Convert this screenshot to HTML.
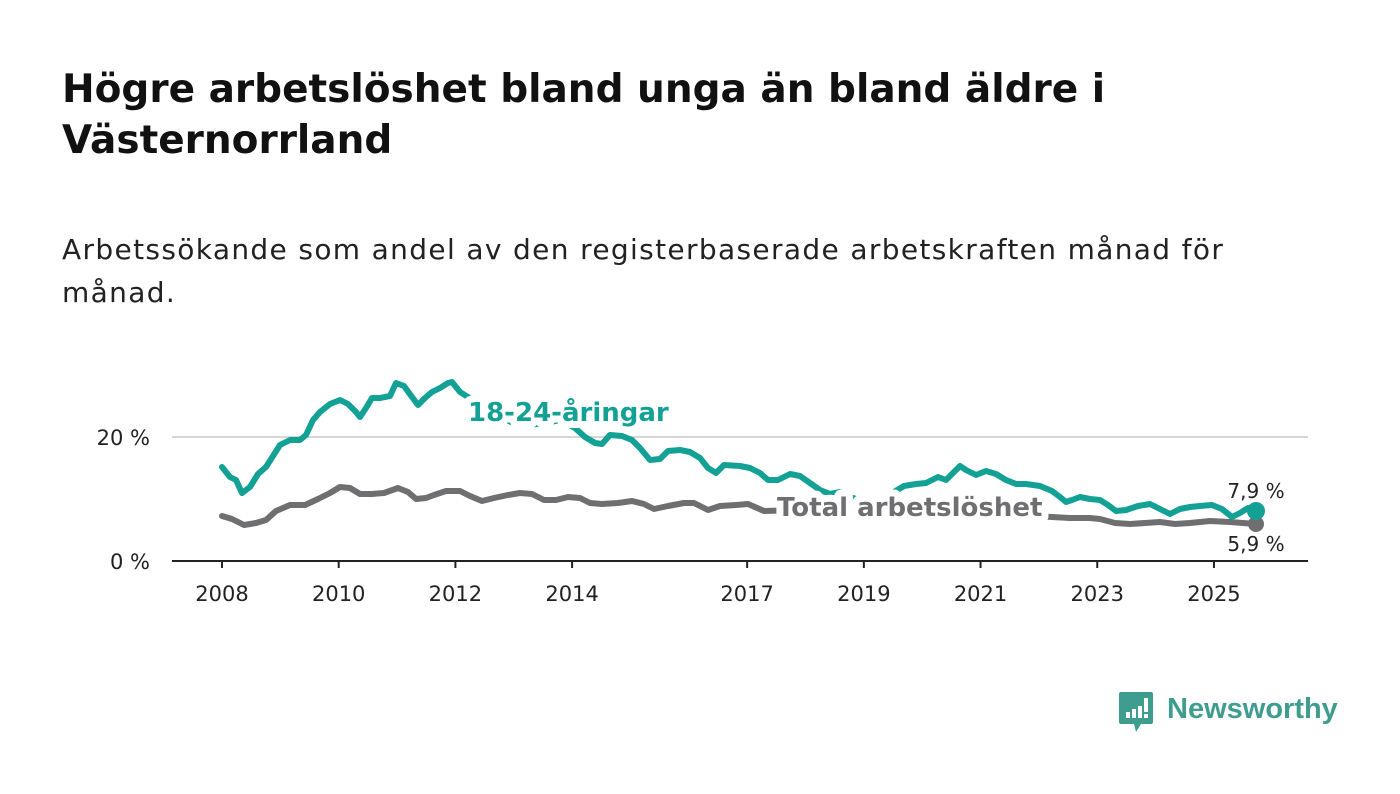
<!DOCTYPE html>
<html><head><meta charset="utf-8"><style>
body{margin:0;background:#fff;width:1400px;height:794px;overflow:hidden;font-family:"DejaVu Sans","Liberation Sans",sans-serif;}
h1{position:absolute;left:62px;top:64px;margin:0;font-size:39px;line-height:51px;font-weight:bold;color:#111;white-space:nowrap;letter-spacing:0px;}
.sub{position:absolute;left:62px;top:228px;margin:0;font-size:28px;line-height:43px;color:#222;white-space:nowrap;letter-spacing:1.35px;}
svg{position:absolute;left:0;top:0;}
.halo{paint-order:stroke;stroke:#fff;stroke-linejoin:round;}
</style></head><body>
<h1>Högre arbetslöshet bland unga än bland äldre i<br>Västernorrland</h1>
<p class="sub">Arbetssökande som andel av den registerbaserade arbetskraften månad för<br>månad.</p>
<svg id="chart" width="1400" height="794"></svg>
<div style="position:absolute;left:1119px;top:692px;">
<svg width="36" height="42" style="position:absolute;left:0;top:0"><path d="M2 0H32Q34 0 34 2V30Q34 32 32 32H22L17 40L15 32H2Q0 32 0 30V2Q0 0 2 0Z" fill="#3f9d8f"/><rect x="7" y="20" width="4" height="6" fill="#fff"/><rect x="13" y="17" width="4" height="9" fill="#fff"/><rect x="19" y="14" width="4" height="12" fill="#fff"/><rect x="25" y="6" width="4" height="14" fill="#fff"/><rect x="25" y="22" width="4" height="4" fill="#fff"/></svg>
<span style="position:absolute;left:48px;top:1px;font-family:'Liberation Sans',sans-serif;font-size:29px;font-weight:bold;color:#3f9d8f;white-space:nowrap;">Newsworthy</span>
</div>
<script>
const yTicks=[0,20];
const xTicks=[2008,2010,2012,2014,2017,2019,2021,2023,2025];
const youthX=[222,230,236,242,250,258,266,273,280,290,300,306,313,320,330,340,348,356,360,366,372,380,390,396,404,412,418,425,432,440,448,452,460,468,480,500,520,540,560,575,585,595,602,610,622,632,640,650,660,668,680,690,700,708,716,724,740,750,760,768,778,790,800,810,820,830,840,850,862,874,884,894,904,916,926,938,946,952,960,966,976,986,996,1006,1016,1026,1040,1052,1060,1066,1072,1080,1090,1100,1108,1116,1126,1138,1150,1160,1170,1180,1190,1200,1212,1222,1232,1240,1248,1256];
const youthPix=[467,477,480,493,487,474,467,456,445,440,440,435,420,412,404,400,404,412,417,408,398,398,396,383,386,397,405,398,392,388,383,382,392,397,405,418,425,424,420,428,437,443,444,435,436,440,448,460,459,451,450,452,458,468,473,465,466,468,473,480,480,474,476,483,490,494,492,497,501,501,500,492,486,484,483,477,480,474,466,470,475,471,474,480,484,484,486,491,497,502,500,497,499,500,505,511,510,506,504,509,514,509,507,506,505,509,517,513,508,511];
const totX=[222,232,244,256,266,276,290,305,318,330,340,350,360,372,384,398,408,416,426,434,446,460,470,482,494,508,520,532,544,556,568,580,590,602,618,632,644,654,668,684,694,708,720,736,748,764,800,850,900,950,1000,1052,1070,1090,1100,1115,1130,1145,1160,1175,1190,1210,1230,1256];
const totPix=[516,519,525,523,520,511,505,505,499,493,487,488,494,494,493,488,492,499,498,495,491,491,496,501,498,495,493,494,500,500,497,498,503,504,503,501,504,509,506,503,503,510,506,505,504,511,510,512,512,513,514,517,518,518,519,523,524,523,522,524,523,521,522,524];
const youthYears=youthX.map(x=>2008+(x-222)/58.35), youthVals=youthPix.map(p=>(561-p)/6.2);
const totYears=totX.map(x=>2008+(x-222)/58.35), totVals=totPix.map(p=>(561-p)/6.2);
const X=y=>222+(y-2008)*58.35, Y=v=>561-v*6.2;
const svg=document.getElementById('chart');const NS='http://www.w3.org/2000/svg';
function mk(t,a,p){const e=document.createElementNS(NS,t);for(const k in a)e.setAttribute(k,a[k]);(p||svg).appendChild(e);return e;}
yTicks.forEach(v=>{
 if(v>0){const g=mk('line',{x1:172,x2:1308,y1:Y(v),y2:Y(v),stroke:'#d6d6d6','stroke-width':2});
 
 }
 const t=mk('text',{x:150,y:Y(v)+8,'text-anchor':'end','font-size':21,fill:'#222'});t.textContent=v+' %';
 
 
});
const ax=mk('line',{x1:172,x2:1308,y1:561,y2:561,stroke:'#222','stroke-width':2});


xTicks.forEach(yr=>{
 const l=mk('line',{x1:X(yr),x2:X(yr),y1:561,y2:568,stroke:'#222','stroke-width':2});
 
 
 const t=mk('text',{x:X(yr),y:601,'text-anchor':'middle','font-size':21,fill:'#222'});t.textContent=yr;
 
 
});
function line(xs,vs,c,name){const p=mk('path',{d:xs.map((x,i)=>(i?'L':'M')+X(x).toFixed(1)+' '+Y(vs[i]).toFixed(1)).join(''),fill:'none',stroke:c,'stroke-width':6,'stroke-linejoin':'round','stroke-linecap':'round'});
 
 }
line(totYears,totVals,'#6f6e70','total-line');
line(youthYears,youthVals,'#14a195','youth-line');
const d1=mk('circle',{cx:X(totYears[totYears.length-1]),cy:Y(totVals[totVals.length-1]),r:8,fill:'#6f6e70'});


const d2=mk('circle',{cx:X(youthYears[youthYears.length-1]),cy:Y(youthVals[youthVals.length-1]),r:9,fill:'#14a195'});


const l1=mk('text',{x:468,y:421,'font-size':26,'font-weight':'bold',fill:'#14a195',class:'halo','stroke-width':14});l1.textContent='18-24-åringar';


const l2=mk('text',{x:777,y:516,'font-size':26,'font-weight':'bold',fill:'#6f6e70',class:'halo','stroke-width':14});l2.textContent='Total arbetslöshet';


const v1=mk('text',{x:1256,y:498,'text-anchor':'middle','font-size':20,fill:'#222'});v1.textContent='7,9 %';


const v2=mk('text',{x:1256,y:551,'text-anchor':'middle','font-size':20,fill:'#222'});v2.textContent='5,9 %';


</script>
</body></html>
